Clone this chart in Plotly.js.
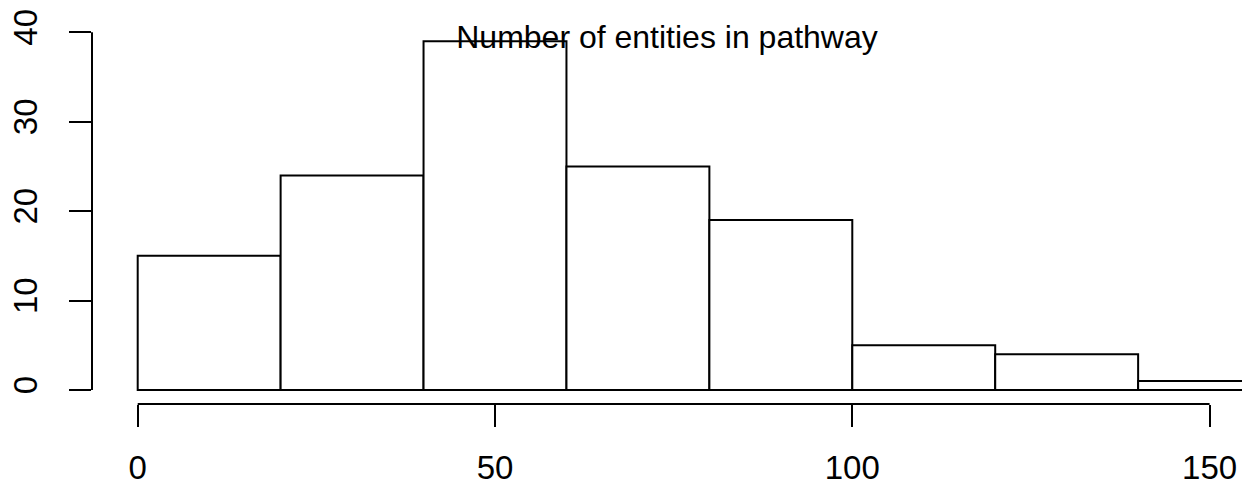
<!DOCTYPE html>
<html>
<head>
<meta charset="utf-8">
<script src="https://cdn.plot.ly/plotly-3.0.1.min.js"></script>
<style>html,body{margin:0;padding:0;background:#fff;}#chart{width:1242px;height:487px;}</style>
</head>
<body>
<div id="chart"></div>
<script>
// Histogram bins (left edges, width 20) and counts
const binEdges = [0, 20, 40, 60, 80, 100, 120, 140, 160];
const counts = [15, 24, 39, 25, 19, 5, 4, 1];
const xTicks = [0, 50, 100, 150];
const yTicks = [0, 10, 20, 30, 40];
const chartTitle = "Number of entities in pathway";

const mids = counts.map((c, i) => (binEdges[i] + binEdges[i + 1]) / 2);
const widths = counts.map((c, i) => binEdges[i + 1] - binEdges[i]);

const font = "Liberation Sans, Arial, Helvetica, sans-serif";

const trace = {
  type: "bar",
  x: mids,
  y: counts,
  width: widths,
  marker: { color: "rgba(255,255,255,1)", line: { color: "#000", width: 2 } },
  hoverinfo: "x+y"
};

const layout = {
  width: 1242,
  height: 487,
  margin: { l: 92, r: 0, t: 10, b: 83, pad: 0 },
  paper_bgcolor: "#fff",
  plot_bgcolor: "#fff",
  showlegend: false,
  title: {
    text: chartTitle,
    font: { family: font, size: 32, color: "#000" },
    xref: "paper", x: 0.5, xanchor: "center",
    yref: "container", y: 1 - 37 / 487, yanchor: "middle"
  },
  xaxis: {
    range: [-6.395, 154.535],
    tickvals: xTicks,
    ticktext: xTicks.map(String),
    ticks: "outside", ticklen: 22, tickwidth: 2, tickcolor: "#000",
    ticklabelstandoff: 12,
    showline: false, showgrid: false, zeroline: false,
    tickfont: { family: font, size: 33, color: "#000" },
    fixedrange: true
  },
  yaxis: {
    range: [-1.566, 42.494],
    tickvals: yTicks,
    ticktext: yTicks.map(String),
    ticks: "outside", ticklen: 22, tickwidth: 2, tickcolor: "#000",
    ticklabelstandoff: 19,
    tickangle: -90,
    showline: false, showgrid: false, zeroline: false,
    tickfont: { family: font, size: 33, color: "#000" },
    fixedrange: true
  },
  shapes: [
    { type: "line", xref: "x", yref: "paper", x0: xTicks[0], x1: xTicks[xTicks.length - 1], y0: 0, y1: 0,
      line: { color: "#000", width: 2 } },
    { type: "line", xref: "paper", yref: "y", x0: 0, x1: 0, y0: yTicks[0], y1: yTicks[yTicks.length - 1],
      line: { color: "#000", width: 2 } }
  ]
};

Plotly.newPlot("chart", [trace], layout, { displayModeBar: false, staticPlot: true });
</script>
</body>
</html>
